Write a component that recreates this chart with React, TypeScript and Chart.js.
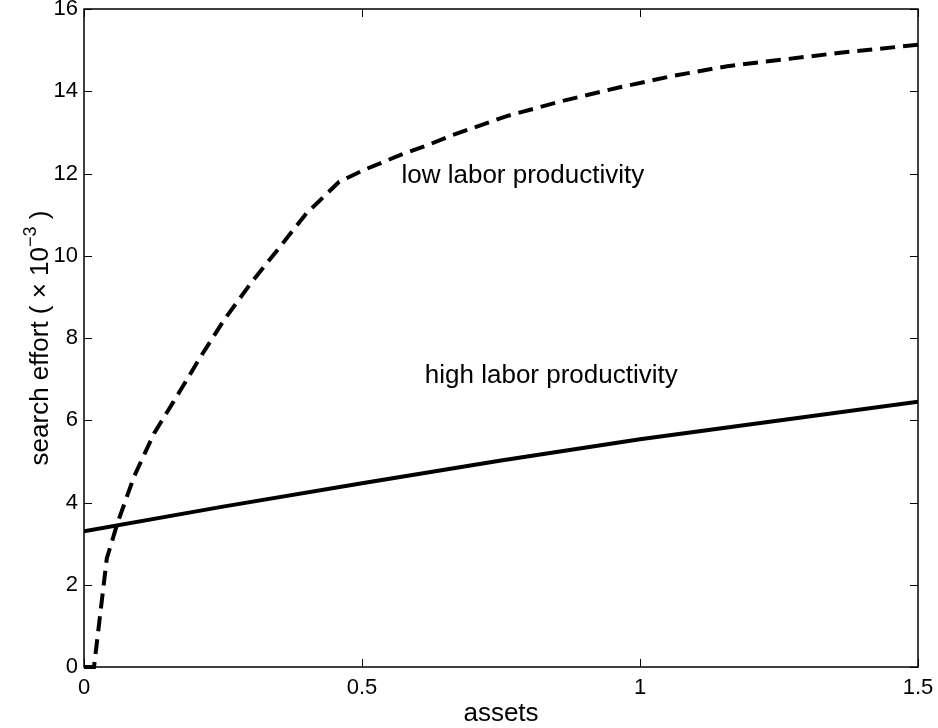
import React, { useEffect, useRef } from "react";
import { Chart, registerables } from "chart.js";

Chart.register(...registerables);

const lowX = [0, 0.018, 0.041, 0.06, 0.09, 0.126, 0.174, 0.21, 0.252, 0.3, 0.348, 0.4, 0.459, 0.504, 0.567, 0.62, 0.66, 0.759, 0.859, 0.958, 1.058, 1.157, 1.257, 1.356, 1.5];
const lowY = [0, 0, 2.64, 3.49, 4.63, 5.68, 6.74, 7.55, 8.44, 9.33, 10.14, 11.03, 11.8, 12.09, 12.44, 12.7, 12.92, 13.39, 13.76, 14.08, 14.37, 14.61, 14.77, 14.93, 15.13];
const highX = [0, 0.25, 0.5, 0.75, 1.0, 1.17, 1.5];
const highY = [3.3, 3.9, 4.47, 5.02, 5.54, 5.85, 6.45];
const xTicks = [0, 0.5, 1, 1.5];
const yTicks = [0, 2, 4, 6, 8, 10, 12, 14, 16];
const annotations = [
  { text: "low labor productivity", x: 0.571, y: 11.76 },
  { text: "high labor productivity", x: 0.613, y: 6.9 },
];
const xTitle = "assets";
const yTitleMain = "search effort ( × 10";
const yTitleSup = "−3";
const yTitleEnd = " )";

const FONT = "'Liberation Sans', Arial, Helvetica, sans-serif";

const boxPlugin = {
  id: "matlabBox",
  beforeDatasetsDraw(chart: any) {
    const { ctx, chartArea: a, scales } = chart;
    ctx.save();
    ctx.strokeStyle = "#000";
    ctx.lineWidth = 1;
    ctx.beginPath();
    for (const v of xTicks) {
      const px = Math.round(scales.x.getPixelForValue(v)) + 0.5;
      ctx.moveTo(px, a.bottom);
      ctx.lineTo(px, a.bottom - 8);
      ctx.moveTo(px, a.top);
      ctx.lineTo(px, a.top + 8);
    }
    for (const v of yTicks) {
      const py = Math.round(scales.y.getPixelForValue(v)) + 0.5;
      ctx.moveTo(a.left, py);
      ctx.lineTo(a.left + 8, py);
      ctx.moveTo(a.right, py);
      ctx.lineTo(a.right - 8, py);
    }
    ctx.stroke();
    ctx.lineWidth = 1.5;
    ctx.strokeRect(a.left, a.top, a.right - a.left, a.bottom - a.top);
    ctx.restore();
  },
  afterDatasetsDraw(chart: any) {
    const { ctx, chartArea: a, scales } = chart;
    ctx.save();
    ctx.fillStyle = "#000";
    ctx.font = `26px ${FONT}`;
    ctx.textAlign = "left";
    ctx.textBaseline = "alphabetic";
    for (const an of annotations) {
      ctx.fillText(an.text, scales.x.getPixelForValue(an.x), scales.y.getPixelForValue(an.y));
    }
    ctx.textAlign = "center";
    ctx.font = `26px ${FONT}`;
    ctx.fillText(xTitle, (a.left + a.right) / 2, 721);
    const cy = (a.top + a.bottom) / 2;
    ctx.translate(48, cy);
    ctx.rotate(-Math.PI / 2);
    ctx.textAlign = "left";
    const mainFont = `26px ${FONT}`;
    const supFont = `18px ${FONT}`;
    ctx.font = mainFont;
    const w1 = ctx.measureText(yTitleMain).width;
    const w3 = ctx.measureText(yTitleEnd).width;
    ctx.font = supFont;
    const w2 = ctx.measureText(yTitleSup).width;
    const total = w1 + w2 + w3;
    let x0 = -total / 2;
    ctx.font = mainFont;
    ctx.fillText(yTitleMain, x0, 0);
    x0 += w1;
    ctx.font = supFont;
    ctx.fillText(yTitleSup, x0, -12);
    x0 += w2;
    ctx.font = mainFont;
    ctx.fillText(yTitleEnd, x0, 0);
    ctx.restore();
  },
};

export default function App() {
  const ref = useRef<HTMLCanvasElement>(null);
  useEffect(() => {
    if (!ref.current) return;
    const chart = new Chart(ref.current, {
      type: "line",
      data: {
        datasets: [
          {
            label: "low labor productivity",
            data: lowX.map((x, i) => ({ x, y: lowY[i] })),
            borderColor: "#000",
            borderWidth: 4,
            borderDash: [15, 8],
            pointRadius: 0,
            tension: 0,
            fill: false,
            clip: false as any,
          },
          {
            label: "high labor productivity",
            data: highX.map((x, i) => ({ x, y: highY[i] })),
            borderColor: "#000",
            borderWidth: 4,
            pointRadius: 0,
            tension: 0,
            fill: false,
          },
        ],
      },
      options: {
        animation: false,
        responsive: false,
        maintainAspectRatio: false,
        layout: { padding: { top: 9, right: 20, left: 0, bottom: 0 } },
        plugins: { legend: { display: false }, tooltip: { enabled: false } },
        scales: {
          x: {
            type: "linear",
            min: 0,
            max: 1.5,
            grid: { display: false, drawTicks: false },
            border: { display: false },
            afterBuildTicks: (s: any) => {
              s.ticks = xTicks.map((v) => ({ value: v }));
            },
            afterFit: (s: any) => {
              s.height = 61;
              s.paddingLeft = 0;
              s.paddingRight = 0;
              s.paddingTop = 0;
              s.paddingBottom = 0;
            },
            ticks: {
              color: "#000",
              font: { family: FONT, size: 22 },
              padding: 8,
              maxRotation: 0,
              callback: (v: any) => String(v),
            },
          },
          y: {
            type: "linear",
            min: 0,
            max: 16,
            grid: { display: false, drawTicks: false },
            border: { display: false },
            afterBuildTicks: (s: any) => {
              s.ticks = yTicks.map((v) => ({ value: v }));
            },
            afterFit: (s: any) => {
              s.width = 84;
              s.paddingLeft = 0;
              s.paddingRight = 0;
              s.paddingTop = 0;
              s.paddingBottom = 0;
            },
            ticks: {
              color: "#000",
              font: { family: FONT, size: 22 },
              padding: 6,
              callback: (v: any) => String(v),
            },
          },
        },
      },
      plugins: [boxPlugin],
    });
    return () => chart.destroy();
  }, []);
  return (
    <div style={{ position: "fixed", left: 0, top: 0, width: 938, height: 728, background: "#fff" }}>
      <canvas ref={ref} width={938} height={728} style={{ display: "block", width: 938, height: 728 }} />
    </div>
  );
}
